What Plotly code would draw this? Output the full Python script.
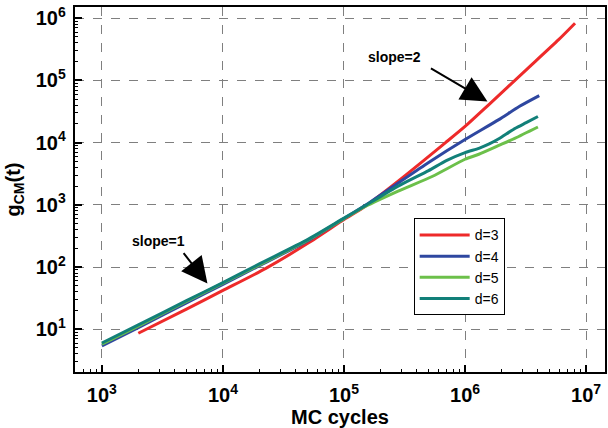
import plotly.graph_objects as go

# MC cycles and g_CM(t) values for each dimension
x_d3 = [2e3, 5e3, 1e4, 2.26e4, 5.1e4, 1e5, 1.5e5, 2.8e5, 6.9e5, 1e6, 1.55e6, 3.2e6, 5.9e6, 8.1e6]
y_d3 = [8.6, 21, 42, 95, 245, 580, 950, 2400, 10000, 18200, 39800, 148000, 447000, 830000]

x_d4 = [1e3, 2e3, 5e3, 1e4, 2e4, 5e4, 1e5, 1.5e5, 2.8e5, 5e5, 1e6, 1.9e6, 2.8e6, 4.1e6]
y_d4 = [5.4, 10.6, 26.5, 52.5, 105, 263, 600, 980, 2240, 4800, 11200, 23400, 38000, 56900]

x_d5 = [1e3, 2e3, 5e3, 1e4, 2e4, 5e4, 1e5, 1.5e5, 2.8e5, 5.4e5, 1e6, 1.3e6, 1.9e6, 2.6e6, 4e6]
y_d5 = [5.75, 11.2, 28, 55, 108, 270, 600, 940, 1660, 2880, 5400, 6500, 9000, 11800, 17800]

x_d6 = [1e3, 2e3, 5e3, 1e4, 2e4, 5e4, 1e5, 1.5e5, 2.8e5, 5e5, 7e5, 1e6, 1.3e6, 1.6e6, 1.9e6, 2.6e6, 3.2e6, 4e6]
y_d6 = [6.0, 11.7, 28.8, 56, 112, 275, 610, 970, 2000, 3550, 5130, 6900, 8100, 9600, 11500, 17000, 20900, 26300]

series_names = ["d=3", "d=4", "d=5", "d=6"]
series_colors = ["#ee2a2a", "#2e47a0", "#6cc04a", "#128079"]

# tick labels (one per decade)
x_exponents = [3, 4, 5, 6, 7]
x_ticktext = ["10<sup>3</sup>", "10<sup>4</sup>", "10<sup>5</sup>", "10<sup>6</sup>", "10<sup>7</sup>"]
y_exponents = [1, 2, 3, 4, 5, 6]
y_ticktext = ["10<sup>1</sup>", "10<sup>2</sup>", "10<sup>3</sup>", "10<sup>4</sup>", "10<sup>5</sup>", "10<sup>6</sup>"]


def default_label(p):
    # plotly's own "power" label for 10^p
    return "10" if p == 1 else "10<sup>%d</sup>" % p


X_RANGE = [2.778, 7.156]
Y_RANGE = [0.312, 6.18]

FONT = "Liberation Sans, Arial, sans-serif"

fig = go.Figure()
for xs, ys, name, col in zip([x_d3, x_d4, x_d5, x_d6], [y_d3, y_d4, y_d5, y_d6], series_names, series_colors):
    fig.add_trace(go.Scatter(x=xs, y=ys, mode="lines", name=name,
                             line=dict(color=col, width=3, shape="spline", smoothing=0.6)))

axis_common = dict(
    type="log", showline=True, linecolor="black", linewidth=2, mirror=True,
    tickmode="linear", tick0=0, dtick=1, exponentformat="power", showexponent="all",
    ticks="inside", ticklen=7, tickwidth=1.5, tickcolor="black",
    showgrid=True, gridcolor="#7f7f7f", griddash="dash", gridwidth=1,
    zeroline=False,
    tickfont=dict(family=FONT, size=16, color="black", weight="bold"),
    minor=dict(dtick="D1", ticks="inside", ticklen=3, tickwidth=1, tickcolor="black", showgrid=False),
)

fig.update_layout(
    width=608, height=428,
    margin=dict(l=75, r=1, t=7, b=54),
    paper_bgcolor="white", plot_bgcolor="white",
    font=dict(family=FONT, color="black"),
    xaxis=dict(**axis_common, range=X_RANGE,
               labelalias={default_label(p): t for p, t in zip(x_exponents, x_ticktext)},
               ticklabelstandoff=5,
               title=dict(text="MC cycles", font=dict(family=FONT, size=20, weight="bold"), standoff=7)),
    yaxis=dict(**axis_common, range=Y_RANGE,
               labelalias={default_label(p): t for p, t in zip(y_exponents, y_ticktext)},
               ticklabelstandoff=4,
               title=dict(text="g<sub>CM</sub>(t)", font=dict(family=FONT, size=20, weight="bold"), standoff=10)),
    legend=dict(x=0.639, y=0.421, xanchor="left", yanchor="top",
                bordercolor="black", borderwidth=1, bgcolor="white",
                font=dict(family=FONT, size=14, color="black"), tracegroupgap=0,
                itemwidth=50),
    showlegend=True,
)

# slope annotations
fig.add_annotation(x=3.872, y=1.733, xref="x", yref="y", text="", showarrow=True,
                   ax=-25, ay=-32, arrowhead=2, arrowsize=2.6, arrowwidth=2, arrowcolor="black")
fig.add_annotation(x=3.47, y=2.42, xref="x", yref="y", text="<b>slope=1</b>", showarrow=False,
                   font=dict(family=FONT, size=14, color="black"))
fig.add_annotation(x=6.185, y=4.66, xref="x", yref="y", text="", showarrow=True,
                   ax=-58, ay=-34, arrowhead=2, arrowsize=2.6, arrowwidth=2, arrowcolor="black")
fig.add_annotation(x=5.42, y=5.38, xref="x", yref="y", text="<b>slope=2</b>", showarrow=False,
                   font=dict(family=FONT, size=14, color="black"))

fig.write_html("out.html")
